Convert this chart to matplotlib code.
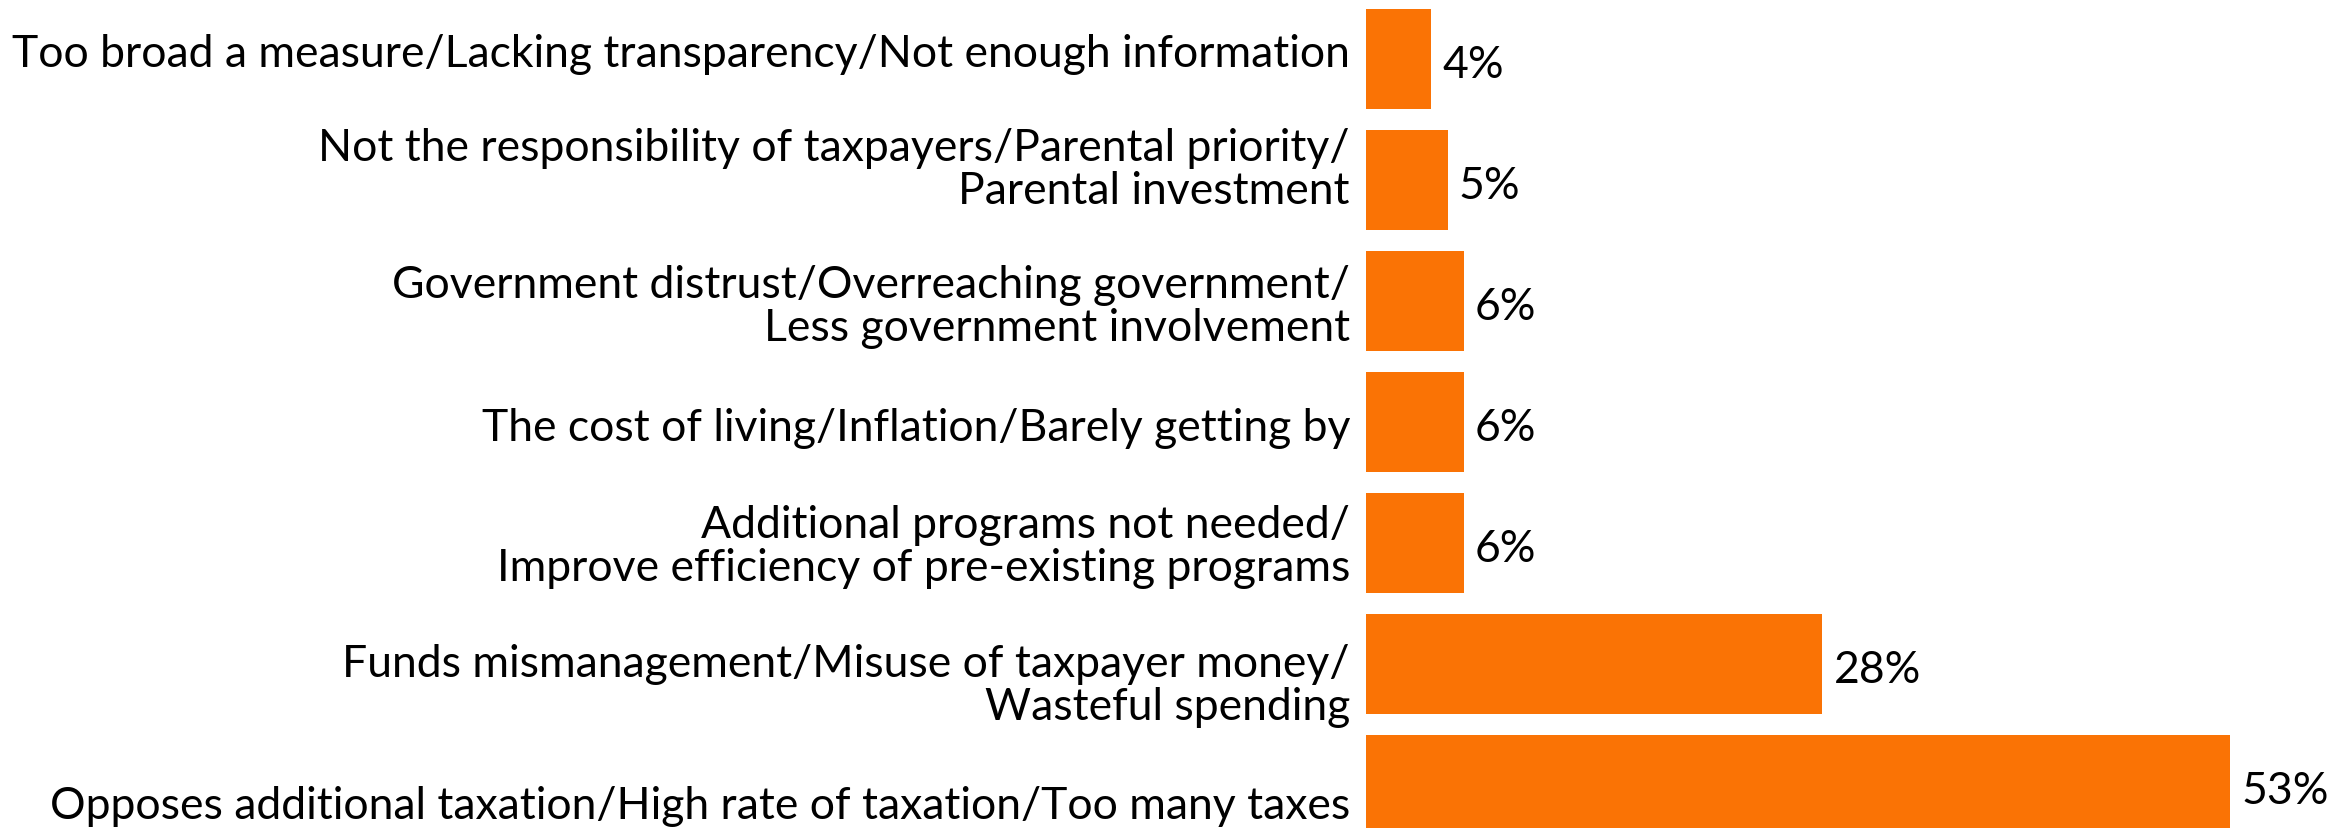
import matplotlib
matplotlib.use("Agg")
import matplotlib.pyplot as plt
import matplotlib.transforms as mtransforms

categories = [
    "Too broad a measure/Lacking transparency/Not enough information",
    "Not the responsibility of taxpayers/Parental priority/\nParental investment",
    "Government distrust/Overreaching government/\nLess government involvement",
    "The cost of living/Inflation/Barely getting by",
    "Additional programs not needed/\nImprove efficiency of pre-existing programs",
    "Funds mismanagement/Misuse of taxpayer money/\nWasteful spending",
    "Opposes additional taxation/High rate of taxation/Too many taxes",
]
values = [4, 5, 6, 6, 6, 28, 53]
value_labels = ["4%", "5%", "6%", "6%", "6%", "28%", "53%"]

ORANGE = "#FA7305"
W, H = 2348, 829
plt.rcParams["font.family"] = ["Lato", "DejaVu Sans"]

fig = plt.figure(figsize=(W / 100, H / 100), dpi=100)
left = 1366
ax = fig.add_axes([left / W, 0, 1 - left / W, 1])

ypos = list(range(len(categories)))
ax.barh(ypos, values, height=0.826, color=ORANGE)
ax.set_xlim(0, (W - left) / 16.3)
ax.set_ylim(6.355, -0.496)
ax.set_xticks([])
ax.set_yticks([])
for s in ax.spines.values():
    s.set_visible(False)

# category labels, nudged vertically like the original layout (pixels, + = down)
label_nudge_px = [-6, -11, 5, 5, 3, 21, 20]
base = ax.get_yaxis_transform()
for y, lab, dy in zip(ypos, categories, label_nudge_px):
    tr = base + mtransforms.ScaledTranslation(-16 / 100, -dy / 100, fig.dpi_scale_trans)
    ax.text(0, y, lab, transform=tr, ha="right", va="center", fontsize=32,
            linespacing=1.05, multialignment="right", clip_on=False)

for y, v, lab in zip(ypos, values, value_labels):
    ax.annotate(lab, (v, y), xytext=(8, -4), textcoords="offset points",
                va="center", ha="left", fontsize=32)

fig.savefig("out.png", dpi=100, facecolor="white")
